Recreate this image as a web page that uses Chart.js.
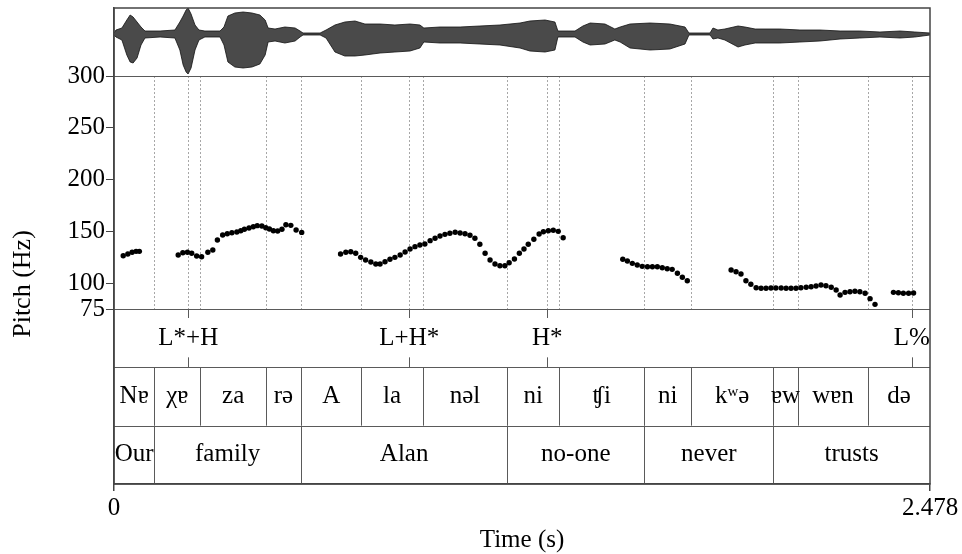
<!DOCTYPE html>
<html><head><meta charset="utf-8">
<script src="https://cdn.jsdelivr.net/npm/chart.js@4.4.1/dist/chart.umd.min.js"></script>
<style>html,body{margin:0;padding:0;background:#fff;}</style>
</head><body>
<canvas id="c" width="962" height="554"></canvas>
<script>
// ---------- data ----------
const pitchTimes = [
0.028,0.042,0.055,0.067,0.077,
0.195,0.209,0.223,0.236,0.251,0.266,0.285,0.300,0.314,0.330,0.344,0.358,0.373,0.385,0.396,0.410,0.423,0.435,0.449,0.461,0.472,0.484,0.497,0.510,0.522,0.537,0.553,0.570,
0.688,0.704,0.719,0.734,0.749,0.764,0.780,0.795,0.808,0.823,0.838,0.853,0.869,0.884,0.899,0.914,0.929,0.944,0.960,0.975,0.990,1.005,1.020,1.036,1.051,1.066,1.081,1.096,1.111,1.127,1.142,1.157,1.172,1.187,1.200,1.216,1.231,1.245,1.258,1.275,1.291,1.304,1.319,1.334,1.349,1.364,
1.545,1.559,1.574,1.589,1.604,1.620,1.635,1.650,1.665,1.680,1.695,1.711,1.726,1.741,
1.874,1.889,1.904,1.919,1.934,1.950,1.965,1.980,1.995,2.010,2.026,2.041,2.056,2.071,2.086,2.102,2.117,2.132,2.147,2.162,2.178,2.193,2.205,2.220,2.235,2.250,2.265,2.281,2.296,2.311,
2.367,2.382,2.397,2.413,2.428];
const pitchHz = [
126.5,128.1,129.8,130.7,130.7,
127.1,129.4,129.8,128.8,126.2,125.5,129.8,132,141.6,146.5,147.7,148.7,149.4,150.6,152,153.2,154.5,155.5,155.1,153.5,152.2,150.6,150.3,152,156.4,155.8,151.3,149,
128.1,129.8,130.3,128.8,124.9,122.3,120.4,118.5,118.5,120.7,123,124.9,127.1,130,132.9,135.2,136.8,137.8,141,143.3,145.5,147.1,148.1,149.1,148.4,147.7,146.2,143.3,137.5,128.8,122.3,118.5,116.8,116.8,119.7,123.3,128.8,132.9,137.5,142.3,147.4,149.6,150.6,151,150,143.8,
123,121.4,119.1,117.5,116.2,115.8,115.8,115.8,114.9,113.9,113.3,109.5,105.6,102.3,
112.7,111,108.8,102.3,98.9,95.6,95,95,95.3,95.3,95.3,95,95,95,95.6,96,96.5,97.2,98.2,97.5,96,93.3,88.5,91.1,91.7,92.1,91.7,90.2,85,79.5,
91.1,90.7,90.2,90.2,90.5];

const waveTimes = [0,0.006,0.024,0.039,0.049,0.058,0.070,0.082,0.094,0.140,0.185,0.200,0.210,0.219,0.225,0.234,0.246,0.258,0.276,0.322,0.334,0.346,0.367,0.392,0.419,0.443,0.459,0.468,0.489,0.519,0.550,0.565,0.574,0.626,0.644,0.671,0.701,0.732,0.762,0.808,0.853,0.899,0.929,0.941,0.990,1.051,1.111,1.172,1.233,1.263,1.309,1.339,1.348,1.400,1.424,1.446,1.491,1.521,1.537,1.567,1.628,1.688,1.734,1.746,1.810,1.819,1.834,1.855,1.895,1.916,1.947,2.022,2.083,2.144,2.205,2.265,2.326,2.387,2.432,2.478];
const waveUpper = [0.025,0.10,0.15,0.35,0.475,0.425,0.30,0.175,0.075,0.075,0.10,0.30,0.45,0.60,0.65,0.50,0.225,0.10,0.075,0.075,0.175,0.45,0.525,0.55,0.525,0.475,0.35,0.15,0.125,0.175,0.15,0.075,0.025,0.025,0.10,0.225,0.30,0.325,0.25,0.25,0.225,0.25,0.225,0.15,0.175,0.175,0.20,0.225,0.275,0.325,0.35,0.30,0.075,0.075,0.20,0.275,0.25,0.125,0.175,0.25,0.275,0.25,0.175,0.025,0.025,0.15,0.10,0.125,0.20,0.175,0.125,0.125,0.10,0.10,0.075,0.075,0.05,0.075,0.05,0.025];
const waveLower = [-0.025,-0.075,-0.15,-0.525,-0.70,-0.725,-0.60,-0.275,-0.10,-0.075,-0.10,-0.40,-0.775,-0.95,-1.00,-0.85,-0.40,-0.15,-0.075,-0.075,-0.275,-0.70,-0.825,-0.85,-0.825,-0.75,-0.525,-0.20,-0.175,-0.225,-0.175,-0.075,-0.025,-0.025,-0.10,-0.45,-0.55,-0.55,-0.525,-0.475,-0.45,-0.425,-0.35,-0.20,-0.225,-0.225,-0.25,-0.275,-0.35,-0.425,-0.45,-0.40,-0.075,-0.075,-0.20,-0.275,-0.25,-0.15,-0.20,-0.35,-0.40,-0.375,-0.25,-0.025,-0.025,-0.125,-0.10,-0.15,-0.325,-0.275,-0.225,-0.225,-0.20,-0.175,-0.125,-0.10,-0.075,-0.10,-0.075,-0.025];

const toneTimes = [0.2256, 0.8968, 1.3158, 2.4224];
const toneLabels = ['L*+H', 'L+H*', 'H*', 'L%'];
const syllableBounds = [0, 0.1224, 0.2621, 0.4616, 0.5679, 0.751, 0.9374, 1.1944, 1.3523, 1.6104, 1.7522, 2.0021, 2.0762, 2.2906, 2.478];
const syllableLabels = ['Nɐ', 'χɐ', 'za', 'rə', 'A', 'la', 'nəl', 'ni', 'ʧi', 'ni', 'kʷə', 'ɐw', 'wɐn', 'də'];
const wordBounds = [0, 0.1224, 0.5679, 1.1944, 1.6104, 2.0021, 2.478];
const wordLabels = ['Our', 'family', 'Alan', 'no-one', 'never', 'trusts'];
const yTickValues = [75, 100, 150, 200, 250, 300];
const xTickValues = [0, 2.478];
const xTickLabels = ['0', '2.478'];

// ---------- chart ----------
const FONT = "'Liberation Serif', 'DejaVu Serif', serif";
const FS = 25;
Chart.defaults.color = '#000';
Chart.defaults.font.family = FONT;
Chart.defaults.font.size = FS;

const tierPlugin = {
  id: 'tiers',
  beforeDatasetsDraw(chart) {
    const {ctx, scales: {x, y}} = chart;
    const yTop = y.getPixelForValue(300), yBot = y.getPixelForValue(75);
    ctx.save();
    ctx.strokeStyle = '#a6a6a6'; ctx.lineWidth = 1; ctx.setLineDash([2, 2]);
    [...syllableBounds.slice(1, -1), ...toneTimes].forEach(t => {
      const px = Math.round(x.getPixelForValue(t)) + 0.5;
      ctx.beginPath(); ctx.moveTo(px, yTop); ctx.lineTo(px, yBot); ctx.stroke();
    });
    ctx.restore();
  },
  afterDraw(chart) {
    const {ctx, chartArea: a, scales: {x, y}} = chart;
    const yTop = y.getPixelForValue(300), yBot = y.getPixelForValue(75);
    const th = (a.bottom - yBot) / 3;
    const t1 = yBot, t2 = yBot + th, t3 = yBot + 2 * th, t4 = a.bottom;
    ctx.save();
    ctx.strokeStyle = '#5a5a5a'; ctx.lineWidth = 1;
    [yTop, t1, t2, t3].forEach(py => {
      ctx.beginPath(); ctx.moveTo(a.left, Math.round(py) + 0.5); ctx.lineTo(a.right, Math.round(py) + 0.5); ctx.stroke();
    });
    const vline = (t, ya, yb) => {
      const px = Math.round(x.getPixelForValue(t)) + 0.5;
      ctx.beginPath(); ctx.moveTo(px, ya); ctx.lineTo(px, yb); ctx.stroke();
    };
    syllableBounds.slice(1, -1).forEach(t => vline(t, t2, t3));
    wordBounds.slice(1, -1).forEach(t => vline(t, t3, t4));
    toneTimes.forEach(t => { vline(t, t1, t1 + 9); vline(t, t2 - 10, t2); });
    ctx.strokeStyle = '#444'; ctx.lineWidth = 1.5;
    ctx.strokeRect(a.left, a.top, a.right - a.left, a.bottom - a.top);
    ctx.fillStyle = '#000';
    ctx.font = `${FS}px ${FONT}`;
    ctx.textAlign = 'center'; ctx.textBaseline = 'middle';
    toneTimes.forEach((t, i) => ctx.fillText(toneLabels[i], x.getPixelForValue(t), (t1 + t2) / 2));
    syllableLabels.forEach((s, i) => {
      const cx = (x.getPixelForValue(syllableBounds[i]) + x.getPixelForValue(syllableBounds[i + 1])) / 2;
      ctx.fillText(s, cx, (t2 + t3) / 2);
    });
    wordLabels.forEach((s, i) => {
      const cx = (x.getPixelForValue(wordBounds[i]) + x.getPixelForValue(wordBounds[i + 1])) / 2;
      ctx.fillText(s, cx, (t3 + t4) / 2);
    });
    ctx.fillText('Time (s)', (a.left + a.right) / 2, 540);
    ctx.translate(23, 284); ctx.rotate(-Math.PI / 2);
    ctx.font = `26px ${FONT}`;
    ctx.fillText('Pitch (Hz)', 0, 0);
    ctx.restore();
  }
};

new Chart(document.getElementById('c').getContext('2d'), {
  type: 'line',
  data: {
    datasets: [
      { label: 'waveUpper', data: waveTimes.map((t, i) => ({x: t, y: waveUpper[i]})), yAxisID: 'yw',
        borderColor: '#111', borderWidth: 0.8, pointRadius: 0, fill: false, tension: 0 },
      { label: 'waveLower', data: waveTimes.map((t, i) => ({x: t, y: waveLower[i]})), yAxisID: 'yw',
        borderColor: '#111', borderWidth: 0.8, pointRadius: 0, fill: '-1', backgroundColor: '#4a4a4a', tension: 0 },
      { label: 'pitch', data: pitchTimes.map((t, i) => ({x: t, y: pitchHz[i]})), yAxisID: 'y',
        showLine: false, pointRadius: 2.7, pointBackgroundColor: '#000', pointBorderWidth: 0, borderColor: '#000' }
    ]
  },
  options: {
    responsive: false, animation: false, devicePixelRatio: 1,
    layout: { padding: { top: 8, right: 32, left: 0, bottom: 0 } },
    plugins: { legend: { display: false }, tooltip: { enabled: false } },
    scales: {
      x: {
        type: 'linear', position: 'bottom', min: 0, max: 2.478,
        afterBuildTicks: s => { s.ticks = xTickValues.map(v => ({value: v})); },
        afterFit: s => { s.height = 70; s.paddingLeft = 0; s.paddingRight = 0; },
        ticks: { autoSkip: false, maxRotation: 0, padding: 2,
                 callback: (v) => xTickLabels[xTickValues.indexOf(v)] ?? String(v) },
        grid: { drawOnChartArea: false, drawTicks: true, tickLength: 7, color: '#444', lineWidth: 1.5 },
        border: { display: true, color: '#444', width: 1.5 }
      },
      y: {
        type: 'linear', position: 'left', min: -94, max: 365.7,
        afterBuildTicks: s => { s.ticks = yTickValues.map(v => ({value: v})); },
        afterFit: s => { s.width = 114; s.paddingTop = 0; s.paddingBottom = 0; },
        ticks: { autoSkip: false, padding: 1 },
        grid: { drawOnChartArea: false, drawTicks: true, tickLength: 8, color: '#444', lineWidth: 1 },
        border: { display: true, color: '#444', width: 1.5 }
      },
      yw: { type: 'linear', display: false, min: -11.25, max: 0.65 }
    }
  },
  plugins: [tierPlugin]
});
</script>
</body></html>
